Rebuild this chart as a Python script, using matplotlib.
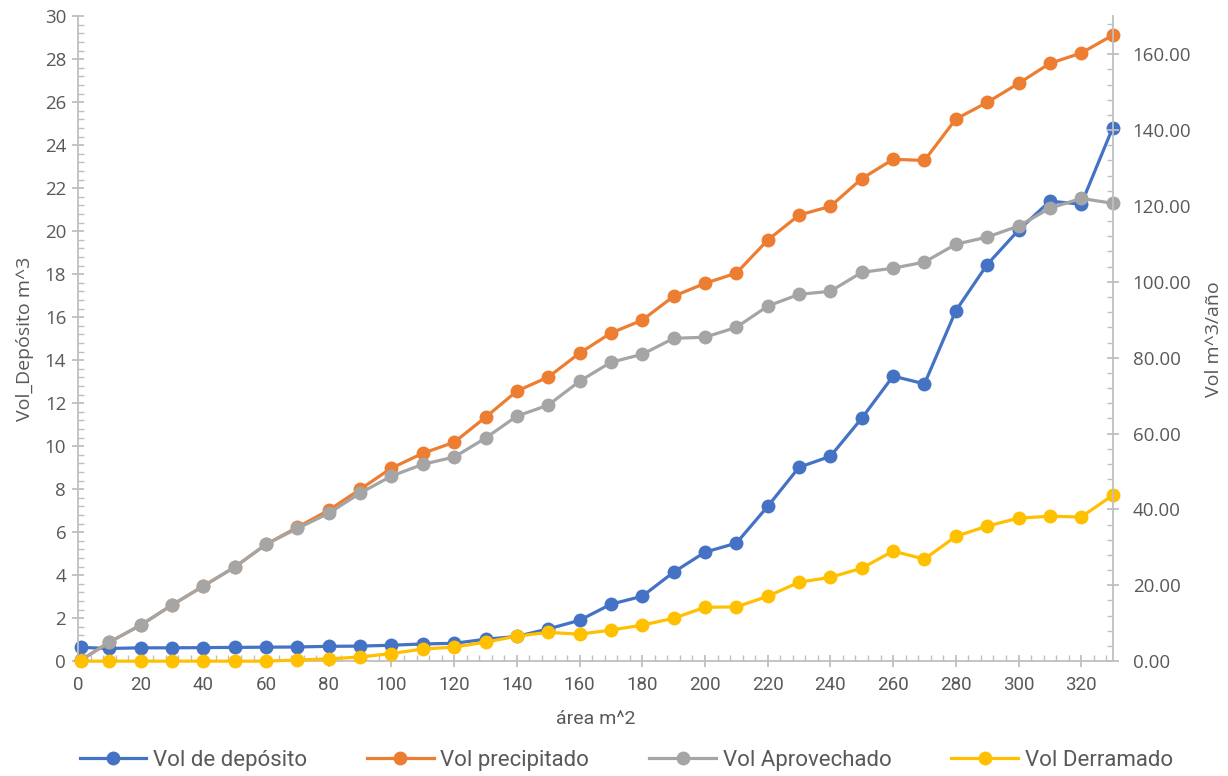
import matplotlib
matplotlib.use("Agg")
from matplotlib import pyplot as plt
from matplotlib.ticker import MultipleLocator, FormatStrFormatter

# datos
area = [1, 10, 20, 30, 40, 50, 60, 70, 80, 90, 100, 110, 120, 130, 140, 150, 160,
        170, 180, 190, 200, 210, 220, 230, 240, 250, 260, 270, 280, 290, 300, 310, 320, 330]

vol_deposito = [0.64, 0.59, 0.62, 0.62, 0.63, 0.64, 0.65, 0.66, 0.69, 0.70, 0.74, 0.80, 0.83,
                1.02, 1.15, 1.50, 1.90, 2.65, 3.02, 4.14, 5.07, 5.49, 7.20, 9.02, 9.53, 11.30,
                13.26, 12.90, 16.30, 18.45, 20.05, 21.40, 21.26, 24.80]

vol_precipitado = [0.3, 5.0, 9.5, 14.8, 19.8, 24.8, 30.8, 35.3, 39.8, 45.3, 50.9, 54.8, 57.7,
                   64.3, 71.2, 74.9, 81.2, 86.5, 89.9, 96.2, 99.6, 102.3, 111.0, 117.6, 119.9,
                   127.2, 132.3, 132.0, 142.9, 147.3, 152.3, 157.6, 160.3, 165.0]

vol_aprovechado = [0.3, 5.0, 9.5, 14.8, 19.8, 24.8, 30.8, 35.0, 39.0, 44.3, 48.8, 51.9, 53.8,
                   58.8, 64.6, 67.5, 73.8, 78.8, 80.9, 85.1, 85.4, 88.0, 93.6, 96.7, 97.5,
                   102.5, 103.6, 105.2, 109.9, 111.8, 114.7, 119.4, 122.0, 120.7]

vol_derramado = [0.0, 0.0, 0.0, 0.0, 0.0, 0.0, 0.0, 0.3, 0.6, 1.1, 2.0, 3.2, 3.7,
                 5.0, 6.6, 7.6, 7.1, 8.2, 9.5, 11.3, 14.2, 14.3, 17.1, 20.8, 22.1,
                 24.5, 29.0, 26.9, 32.9, 35.6, 37.7, 38.2, 38.0, 43.7]

AZUL = '#4472C4'
NARANJA = '#ED7D31'
GRIS = '#A5A5A5'
AMARILLO = '#FFC000'
EJE = '#BFBFBF'
TEXTO = '#595959'

plt.rcParams['font.family'] = ['Open Sans', 'DejaVu Sans']
ESTRECHA = ['Roboto', 'DejaVu Sans']

fig = plt.figure(figsize=(12.28, 7.76), dpi=100)
ax = fig.add_axes([0.0635, 0.148, 0.8425, 0.831])
ax2 = ax.twinx()

estilo = dict(lw=2.3, marker='o', markersize=10, markeredgewidth=0, clip_on=False)
l1, = ax.plot(area, vol_deposito, color=AZUL, label='Vol de depósito', **estilo)
l2, = ax2.plot(area, vol_precipitado, color=NARANJA, label='Vol precipitado', **estilo)
l3, = ax2.plot(area, vol_aprovechado, color=GRIS, label='Vol Aprovechado', **estilo)
l4, = ax2.plot(area, vol_derramado, color=AMARILLO, label='Vol Derramado', **estilo)

ax.set_xlim(0, 330)
ax.set_ylim(0, 30)
ax2.set_ylim(0, 170)

ax.xaxis.set_major_locator(MultipleLocator(20))
ax.xaxis.set_minor_locator(MultipleLocator(4))
ax.yaxis.set_major_locator(MultipleLocator(2))
ax.yaxis.set_minor_locator(MultipleLocator(0.4))
ax2.yaxis.set_major_locator(MultipleLocator(20))
ax2.yaxis.set_minor_locator(MultipleLocator(4))
ax2.yaxis.set_major_formatter(FormatStrFormatter('%.2f'))

for a in (ax, ax2):
    a.spines['top'].set_visible(False)
    for s in ('left', 'right', 'bottom'):
        a.spines[s].set_color(EJE)
        a.spines[s].set_linewidth(1.3)
    a.tick_params(which='major', direction='inout', length=9, width=1.3, color=EJE,
                  labelcolor=TEXTO, labelsize=13.5)
    a.tick_params(which='minor', direction='in', length=4, width=1.0, color=EJE)
ax.spines['right'].set_visible(False)
ax2.spines['left'].set_visible(False)
ax2.spines['bottom'].set_visible(False)

ax.tick_params(axis='x', which='major', pad=6)
for t in ax.get_xticklabels():
    t.set_fontfamily(ESTRECHA)
    t.set_fontsize(13.5)
ax.tick_params(axis='y', pad=4)
ax2.tick_params(axis='y', pad=10)

ax.set_xlabel('área m^2', fontsize=14, color=TEXTO, labelpad=12, fontfamily=ESTRECHA)
ax.set_ylabel('Vol_Depósito m^3', fontsize=14, color=TEXTO, labelpad=8)
ax2.set_ylabel('Vol m^3/año', fontsize=14, color=TEXTO, labelpad=10)

leg = fig.legend(handles=[l1, l2, l3, l4], loc='center', bbox_to_anchor=(0.51, 0.02),
                 ncol=4, frameon=False, handlelength=3.0, handletextpad=0.3,
                 columnspacing=2.7, prop={'family': ESTRECHA, 'size': 16})
for t in leg.get_texts():
    t.set_color(TEXTO)

fig.savefig('out.png', dpi=100)
